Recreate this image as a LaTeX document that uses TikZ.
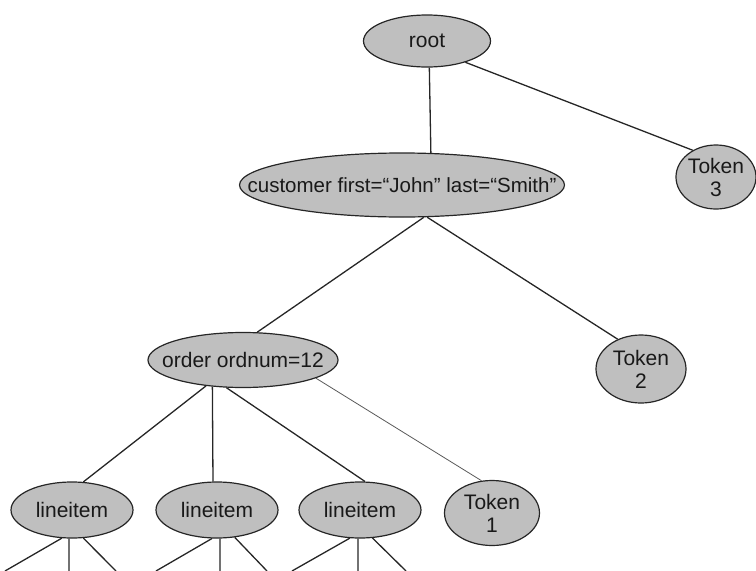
\documentclass[tikz,border=0pt]{standalone}
\usepackage{fontspec}
\setmainfont{Liberation Sans}
\usetikzlibrary{shapes.geometric}

\newcommand\flattext[1]{\makebox[0pt]{#1}}

\begin{document}
\begin{tikzpicture}[-,x=1pt,y=-1pt,
  tree node/.style={ellipse,draw=black!85,line width=1.2pt,fill=black!25,inner sep=0pt,
    text=black!90,font=\fontsize{21}{23}\selectfont},
  edge/.style={black!85,line width=1.3pt},
  thin edge/.style={black!65,line width=0.8pt}]

    \useasboundingbox (0,0) rectangle (756,571);

    \node[tree node,minimum width=127pt,minimum height=52pt] (root) at (427,41) {\flattext{root}};
    \node[tree node,minimum width=325pt,minimum height=64pt,font=\fontsize{20.5}{23}\selectfont] (customer) at (402,185) {\flattext{customer first=“John” last=“Smith”}};
    \node[tree node,minimum width=80pt,minimum height=64pt,align=center] (token3) at (716,177) {Token\\3};
    \node[tree node,minimum width=190pt,minimum height=55pt] (order) at (243,360) {\flattext{order ordnum=12}};
    \node[tree node,minimum width=90pt,minimum height=68pt,align=center] (token2) at (641,369) {Token\\2};
    \node[tree node,minimum width=122pt,minimum height=56pt] (item1) at (72,510) {lineitem};
    \node[tree node,minimum width=122pt,minimum height=56pt] (item2) at (217,510) {lineitem};
    \node[tree node,minimum width=122pt,minimum height=56pt] (item3) at (360,510) {lineitem};
    \node[tree node,minimum width=95pt,minimum height=65pt,align=center] (token1) at (492,513) {Token\\1};

    % loose ends below the line items
    \coordinate (item1a) at (5,571);
    \coordinate (item1b) at (69,571);
    \coordinate (item1c) at (116,571);
    \coordinate (item2a) at (156,571);
    \coordinate (item2b) at (220,571);
    \coordinate (item2c) at (267,571);
    \coordinate (item3a) at (292,571);
    \coordinate (item3b) at (358,571);
    \coordinate (item3c) at (406,571);

    \draw[edge] (root.-85) -- (customer.48);
    \draw[edge] (root.-29) -- (token3.131);
    \draw[edge] (customer.-56) -- (order.63);
    \draw[edge] (customer.-52) -- (token2.128);
    \draw[edge] (order.215) -- (item1.68);
    \draw[edge] (order.221) -- (item2.98);
    \draw[edge] (order.239) -- (item3.80);
    \draw[thin edge] (order.346) -- (token1.108);

    \draw[edge] (item1.250) -- (item1a);
    \draw[edge] (item1.264) -- (item1b);
    \draw[edge] (item1.292) -- (item1c);
    \draw[edge] (item2.260) -- (item2a);
    \draw[edge] (item2.276) -- (item2b);
    \draw[edge] (item2.303) -- (item2c);
    \draw[edge] (item3.250) -- (item3a);
    \draw[edge] (item3.266) -- (item3b);
    \draw[edge] (item3.294) -- (item3c);

\end{tikzpicture}
\end{document}
